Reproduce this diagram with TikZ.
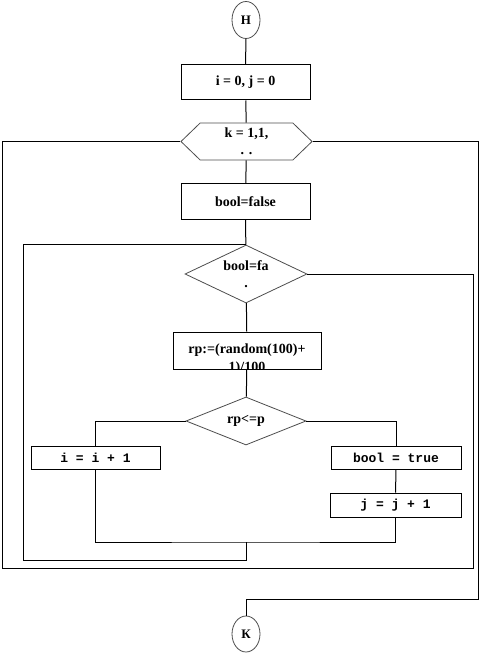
\documentclass[tikz,border=0pt]{standalone}
\usepackage{fontspec}
\setmainfont{Liberation Serif}
\setmonofont{Liberation Mono}
\usepackage{tikz}
\usetikzlibrary{shapes.geometric, shapes.symbols}

\begin{document}
\begin{tikzpicture}[x=1pt, y=-1pt, line width=1pt,
  % Terminals: thin grey ellipse
  termnode/.style={ellipse, draw=black!70, line width=0.8pt, minimum width=28pt,
                   minimum height=37pt, inner sep=0pt, font=\bfseries\fontsize{13}{14}\selectfont},
  % Serif process boxes
  procbox/.style={draw, rectangle, minimum width=129pt, minimum height=35pt,
                  inner sep=0pt, align=center, font=\bfseries\fontsize{14}{16}\selectfont},
  % Monospace process boxes
  codebox/.style={draw, rectangle, minimum width=130pt, minimum height=23pt,
                  inner sep=0pt, font=\ttfamily\bfseries\fontsize{13}{14}\selectfont},
  % Loop header
  loopbox/.style={signal, signal to=west and east, signal pointer angle=88, draw=black!70,
                  line width=0.8pt, minimum width=131pt, minimum height=37pt, inner sep=0pt,
                  align=center, font=\bfseries\fontsize{14}{17}\selectfont},
  % Conditions
  condbox/.style={diamond, draw=black!70, line width=0.8pt, aspect=2, inner sep=0pt,
                  align=center, font=\bfseries\fontsize{14}{17}\selectfont}
]
  \useasboundingbox (0,0) rectangle (480,655);

  % Main column
  \node[termnode] (start) at (246,20) {Н};
  \node[procbox] (init) at (245.5,82.5) {i = 0, j = 0};
  \node[loopbox] (loopk) at (246.5,141.5) {k = 1,1,\\. .};
  \node[procbox, minimum height=36pt] (bfalse) at (245.5,201.5) {bool=false};
  \node[condbox, minimum width=122pt, minimum height=58pt] (whilec) at (246,274) {bool=fa\\.};
  \node[procbox, minimum width=148pt, minimum height=37pt,
        path picture={\node[font=\bfseries\fontsize{14}{18}\selectfont, align=center]
          at ([yshift=-9pt]path picture bounding box.center) {rp:=(random(100)+\\1)/100};}]
        (rp) at (247,350.5) {};
  \node[condbox, minimum width=120pt, minimum height=48pt] (cmp) at (246,421) {rp<=p};

  % Branches
  \node[codebox, minimum width=129pt] (inci) at (95.5,457.5) {i = i + 1};
  \node[codebox] (btrue) at (396,457.5) {bool = true};
  \node[codebox, minimum width=131pt, minimum height=24pt] (incj) at (395.5,505) {j = j + 1};

  \node[termnode, minimum height=36pt] (finish) at (246,634) {К};

  % Corner points of the loops
  \coordinate (merge) at (246,542);
  \coordinate (loopin) at (23,560);
  \coordinate (outerR) at (473,568);
  \coordinate (outerL) at (2,568);
  \coordinate (exitc) at (478,599);

  % Straight chain
  \draw (start) -- (init);
  \draw (init) -- (loopk);
  \draw (loopk) -- (bfalse);
  \draw (bfalse) -- (whilec);
  \draw (whilec) -- (rp);
  \draw (rp) -- (cmp);

  % Branches of rp<=p
  \draw (cmp.west) -| (inci.north);
  \draw (cmp.east) -| (btrue.north);
  \draw (btrue) -- (incj);
  \draw (inci.south) |- (merge) -| (incj.south);

  % Inner loop back to bool=fa
  \draw (merge) |- (loopin) |- (whilec.north);

  % Outer loop back to k
  \draw (whilec.east) -| (outerR) -- (outerL) |- (loopk.west);

  % Exit to end
  \draw (loopk.east) -| (exitc) -| (finish.north);

\end{tikzpicture}
\end{document}
